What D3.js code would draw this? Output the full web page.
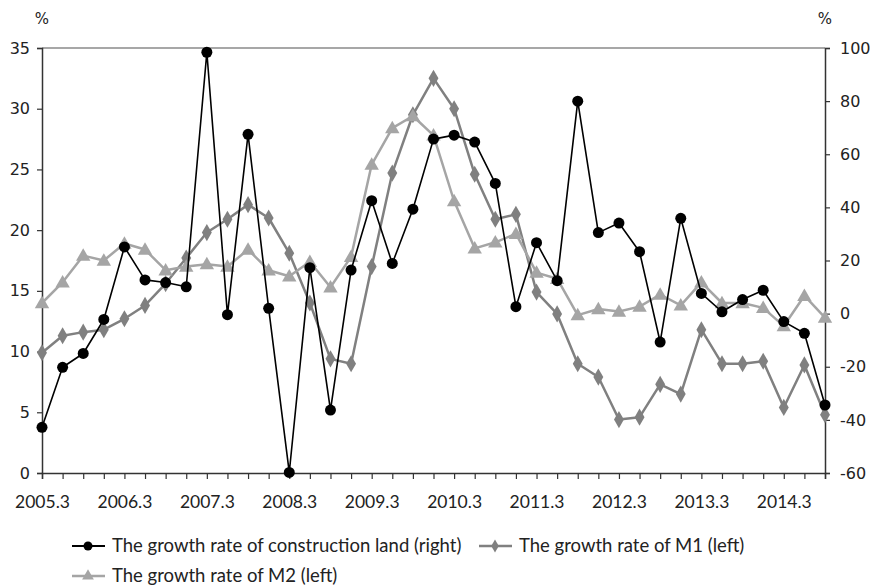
<!DOCTYPE html>
<html>
<head>
<meta charset="utf-8">
<script src="https://cdn.jsdelivr.net/npm/d3@7"></script>
<style>
  body { margin: 0; background: #fff; }
  svg text { font-family: "DejaVu Sans", sans-serif; fill: #222; }
  .xlab text, .legend text { font-family: Lato, "Open Sans", sans-serif; }
</style>
</head>
<body>
<div id="chart"></div>
<script>
const quarters = [
  "2005.3", "2005.6", "2005.9", "2005.12",
  "2006.3", "2006.6", "2006.9", "2006.12",
  "2007.3", "2007.6", "2007.9", "2007.12",
  "2008.3", "2008.6", "2008.9", "2008.12",
  "2009.3", "2009.6", "2009.9", "2009.12",
  "2010.3", "2010.6", "2010.9", "2010.12",
  "2011.3", "2011.6", "2011.9", "2011.12",
  "2012.3", "2012.6", "2012.9", "2012.12",
  "2013.3", "2013.6", "2013.9", "2013.12",
  "2014.3", "2014.6", "2014.9"
];
// construction land growth, right axis
const landRate = [
  -42.8, -20.2, -15.0, -2.2, 25.1, 12.7, 11.7, 10.1, 98.4, -0.4,
  67.5, 2.0, -59.8, 17.3, -36.3, 16.4, 42.5, 18.9, 39.3, 65.7,
  67.2, 64.6, 49.0, 2.6, 26.7, 12.4, 80.0, 30.5, 34.1, 23.3,
  -10.7, 35.9, 7.6, 0.7, 5.3, 8.8, -3.0, -7.4, -34.4
];
// M1 growth, left axis
const m1Rate = [
  9.9, 11.3, 11.6, 11.8, 12.7, 13.8, 15.6, 17.7, 19.8, 20.9,
  22.1, 21.0, 18.1, 14.0, 9.4, 9.0, 17.0, 24.7, 29.5, 32.5,
  30.0, 24.6, 20.9, 21.3, 14.9, 13.1, 9.0, 7.9, 4.4, 4.6,
  7.3, 6.5, 11.8, 9.0, 9.0, 9.2, 5.4, 8.9, 4.8
];
// M2 growth, left axis
const m2Rate = [
  14.0, 15.7, 17.9, 17.5, 18.9, 18.4, 16.7, 17.0, 17.2, 17.0,
  18.4, 16.7, 16.2, 17.4, 15.3, 17.8, 25.4, 28.4, 29.4, 27.8,
  22.4, 18.5, 19.0, 19.7, 16.5, 16.0, 13.0, 13.5, 13.3, 13.7,
  14.7, 13.8, 15.7, 14.0, 14.0, 13.6, 12.1, 14.6, 12.8
];
const leftTicks = [0, 5, 10, 15, 20, 25, 30, 35];
const rightTicks = [-60, -40, -20, 0, 20, 40, 60, 80, 100];
const legendLabels = [
  "The growth rate of construction land (right)",
  "The growth rate of M1 (left)",
  "The growth rate of M2 (left)"
];

const width = 872, height = 586;
const plotLeft = 42, plotRight = 825, plotTop = 48, plotBottom = 473;

const svg = d3.select("#chart").append("svg")
  .attr("width", width).attr("height", height);

const x = d3.scalePoint().domain(quarters).range([plotLeft, plotRight]);
const yLeft = d3.scaleLinear().domain([0, 35]).range([plotBottom, plotTop]);
const yRight = d3.scaleLinear().domain([-60, 100]).range([plotBottom, plotTop]);

// top frame line
svg.append("line")
  .attr("x1", plotLeft).attr("x2", plotRight)
  .attr("y1", plotTop).attr("y2", plotTop)
  .attr("stroke", "#8a8a8a").attr("stroke-width", 1.5);

const axisColor = "#333";

const gl = svg.append("g")
  .attr("transform", `translate(${plotLeft},0)`)
  .call(d3.axisLeft(yLeft).tickValues(leftTicks).tickSize(5).tickPadding(7));
const gr = svg.append("g")
  .attr("transform", `translate(${plotRight},0)`)
  .call(d3.axisRight(yRight).tickValues(rightTicks).tickSize(5).tickPadding(10)
    .tickFormat((d) => String(d)));
const gx = svg.append("g")
  .attr("class", "xlab")
  .attr("transform", `translate(0,${plotBottom})`)
  .call(d3.axisBottom(x).tickSize(6).tickPadding(17)
    .tickFormat((d) => (d.endsWith(".3") ? d : "")));

[gl, gr, gx].forEach((g) => {
  g.select(".domain").attr("stroke", axisColor).attr("stroke-width", 1.5);
  g.selectAll(".tick line").attr("stroke", axisColor).attr("stroke-width", 1.2);
  g.selectAll("text").attr("font-size", 16).attr("fill", "#222");
});
gx.selectAll("text").attr("font-size", 17.5);

svg.append("text").attr("x", 42).attr("y", 24)
  .attr("text-anchor", "middle").attr("font-size", 15).text("%");
svg.append("text").attr("x", 825).attr("y", 24)
  .attr("text-anchor", "middle").attr("font-size", 15).text("%");

const diamond = d3.symbol().type(d3.symbolDiamond).size(85);
const triangle = d3.symbol().type(d3.symbolTriangle).size(90);

function drawSeries(values, yScale, color, lineWidth, marker) {
  const line = d3.line()
    .x((d, i) => x(quarters[i]))
    .y((d) => yScale(d));
  svg.append("path")
    .datum(values)
    .attr("d", line)
    .attr("fill", "none")
    .attr("stroke", color)
    .attr("stroke-width", lineWidth)
    .attr("stroke-linejoin", "round");
  const pts = svg.append("g").selectAll("g")
    .data(values)
    .enter()
    .append("g")
    .attr("transform", (d, i) => `translate(${x(quarters[i])},${yScale(d)})`);
  if (marker === "circle") {
    pts.append("circle").attr("r", 5.5).attr("fill", color);
  } else {
    pts.append("path")
      .attr("d", marker === "diamond" ? diamond : triangle)
      .attr("transform", marker === "triangle" ? "translate(0,1)" : null)
      .attr("fill", color);
  }
}

const m1Color = "#808080", m2Color = "#a5a5a5", landColor = "#000";
drawSeries(m1Rate, yLeft, m1Color, 2.5, "diamond");
drawSeries(m2Rate, yLeft, m2Color, 2.5, "triangle");
drawSeries(landRate, yRight, landColor, 1.6, "circle");

// legend
const legendItems = [
  { label: legendLabels[0], color: landColor, marker: "circle", lw: 2, x: 72, y: 546 },
  { label: legendLabels[1], color: m1Color, marker: "diamond", lw: 2.5, x: 479, y: 546 },
  { label: legendLabels[2], color: m2Color, marker: "triangle", lw: 2.5, x: 72, y: 576 }
];
const lg = svg.append("g").attr("class", "legend");
legendItems.forEach((it) => {
  const g = lg.append("g").attr("transform", `translate(${it.x},${it.y})`);
  g.append("line").attr("x1", 0).attr("x2", 33)
    .attr("stroke", it.color).attr("stroke-width", it.lw);
  if (it.marker === "circle") {
    g.append("circle").attr("cx", 16).attr("r", 4.5).attr("fill", it.color);
  } else {
    g.append("path")
      .attr("d", it.marker === "diamond" ? d3.symbol().type(d3.symbolDiamond).size(50) : d3.symbol().type(d3.symbolTriangle).size(60))
      .attr("transform", "translate(16,0)")
      .attr("fill", it.color);
  }
  g.append("text").attr("x", 40).attr("y", 0).attr("dy", "0.35em")
    .attr("font-size", 18.5).text(it.label);
});
</script>
</body>
</html>
